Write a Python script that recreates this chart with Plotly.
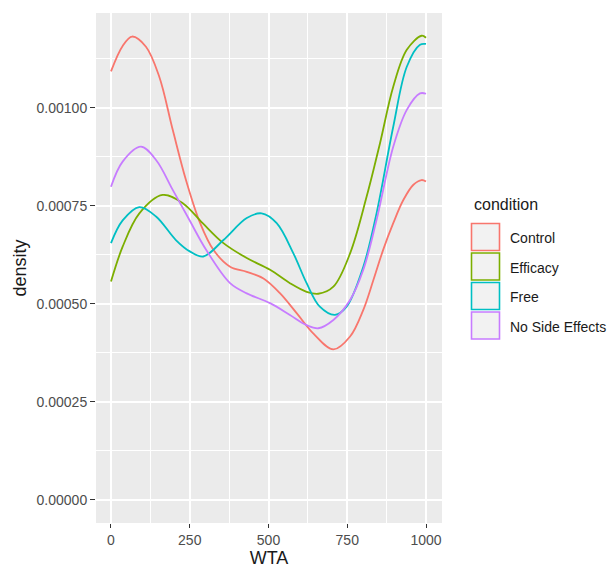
import plotly.graph_objects as go

conditions = ["Control", "Efficacy", "Free", "No Side Effects"]
colors = ["#F8766D", "#7CAE00", "#00BFC4", "#C77CFF"]

control_x = [0, 37, 67, 111, 153, 196, 238, 283, 325, 378, 431, 484, 537, 590, 642, 706, 759, 801, 833, 864, 896, 928, 960, 986, 1000]
control_y = [0.001093, 0.001158, 0.001182, 0.001156, 0.001080, 0.000944, 0.000816, 0.000706, 0.000638, 0.000595, 0.000582,
             0.000565, 0.000527, 0.000476, 0.000425, 0.000384, 0.000417, 0.000485, 0.000561, 0.000638, 0.000706, 0.000765,
             0.000804, 0.000816, 0.000812]

efficacy_x = [0, 37, 90, 164, 228, 291, 357, 431, 505, 568, 621, 658, 706, 759, 812, 854, 896, 939, 986, 1000]
efficacy_y = [0.000557, 0.000646, 0.000731, 0.000778, 0.000757, 0.000706, 0.000655, 0.000617, 0.000587, 0.000553, 0.000531,
              0.000526, 0.000544, 0.000629, 0.000775, 0.000910, 0.001054, 0.001148, 0.001184, 0.001179]

free_x = [0, 37, 90, 143, 206, 250, 293, 357, 431, 478, 526, 579, 621, 663, 711, 748, 801, 843, 896, 939, 981, 1000]
free_y = [0.000655, 0.000713, 0.000747, 0.000723, 0.000663, 0.000634, 0.000621, 0.000663, 0.000719, 0.000731, 0.000706,
          0.000629, 0.000553, 0.000493, 0.000472, 0.000493, 0.000595, 0.000731, 0.000952, 0.001105, 0.001161, 0.001163]

nse_x = [0, 37, 95, 143, 196, 249, 302, 378, 431, 505, 568, 621, 658, 706, 759, 801, 843, 896, 939, 981, 1000]
nse_y = [0.000799, 0.000863, 0.000901, 0.000867, 0.000791, 0.000714, 0.000638, 0.000553, 0.000527, 0.000502, 0.000472,
         0.000446, 0.000438, 0.000459, 0.000510, 0.000587, 0.000714, 0.000901, 0.000995, 0.001037, 0.001036]

series_x = [control_x, efficacy_x, free_x, nse_x]
series_y = [control_y, efficacy_y, free_y, nse_y]

x_ticks = [0, 250, 500, 750, 1000]
x_minor = [125, 375, 625, 875]
y_ticks = [0.0, 0.00025, 0.0005, 0.00075, 0.001]
y_minor = [0.000125, 0.000375, 0.000625, 0.000875, 0.001125]
y_tick_labels = ["0.00000", "0.00025", "0.00050", "0.00075", "0.00100"]

fig = go.Figure()
for name, col, xs, ys in zip(conditions, colors, series_x, series_y):
    fig.add_trace(go.Scatter(x=xs, y=ys, mode="lines",
                             line=dict(color=col, width=1.8, shape="spline", smoothing=1.0),
                             name=name, showlegend=False))

# page offset: the html body has an 8px default margin
OFF = 8
W, H = 615 - OFF, 568 - OFF
# panel edges in window pixels
L_PX, R_PX, T_PX, B_PX = 96, 442, 13, 523

def px_x(px):
    return (px - L_PX) / (R_PX - L_PX)

def px_y(py):
    return (B_PX - py) / (B_PX - T_PX)

annotations = [dict(text="condition", x=px_x(472), y=px_y(204), xref="paper", yref="paper",
                    xanchor="left", yanchor="middle", showarrow=False,
                    font=dict(size=16, color="#1A1A1A"))]
shapes = []
key_centers = [237, 266.5, 296, 325.5]
for name, col, cy in zip(conditions, colors, key_centers):
    shapes.append(dict(type="rect", xref="paper", yref="paper",
                       x0=px_x(471.5), x1=px_x(499.5), y0=px_y(cy + 13.5), y1=px_y(cy - 13.5),
                       fillcolor="#F2F2F2", line=dict(color=col, width=1.6)))
    annotations.append(dict(text=name, x=px_x(508), y=px_y(cy + 1), xref="paper", yref="paper",
                            xanchor="left", yanchor="middle", showarrow=False,
                            font=dict(size=14, color="#1A1A1A")))

fig.update_layout(
    width=W, height=H,
    margin=dict(l=L_PX - OFF, r=W - (R_PX - OFF), t=T_PX - OFF, b=H - (B_PX - OFF), pad=0),
    paper_bgcolor="white", plot_bgcolor="#EBEBEB",
    font=dict(family="Liberation Sans, Arial, sans-serif", color="#4D4D4D", size=12),
    showlegend=False,
    annotations=annotations,
    shapes=shapes,
    xaxis=dict(
        range=[-47.6, 1050.8], tickvals=x_ticks, ticktext=[str(v) for v in x_ticks],
        showgrid=True, gridcolor="white", gridwidth=1.8,
        minor=dict(tickvals=x_minor, showgrid=True, gridcolor="white", gridwidth=0.8, ticks=""),
        ticks="outside", ticklen=4, tickcolor="#333333", tickwidth=1.2,
        zeroline=False, showline=False, automargin=False,
        tickfont=dict(size=14, color="#4D4D4D"),
        title=dict(text="WTA", font=dict(size=18, color="#1A1A1A"), standoff=6),
    ),
    yaxis=dict(
        range=[-0.0000587, 0.001242], tickvals=y_ticks, ticktext=y_tick_labels,
        showgrid=True, gridcolor="white", gridwidth=1.8,
        minor=dict(tickvals=y_minor, showgrid=True, gridcolor="white", gridwidth=0.8, ticks=""),
        ticks="outside", ticklen=5, tickcolor="#333333", tickwidth=1.2,
        zeroline=False, showline=False, automargin=False,
        tickfont=dict(size=14, color="#4D4D4D"),
        title=dict(text="density", font=dict(size=18, color="#1A1A1A"), standoff=5),
    ),
)

fig.write_html("out.html")
